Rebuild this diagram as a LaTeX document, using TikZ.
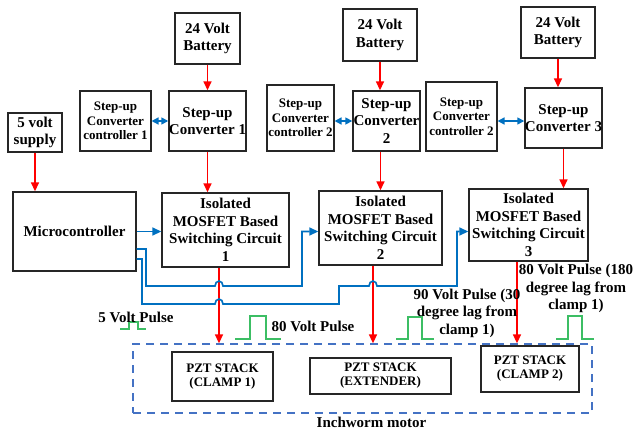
\documentclass[tikz,border=0pt]{standalone}
\usepackage{fontspec}
\setmainfont{Liberation Serif}
\usetikzlibrary{arrows.meta,positioning}

\definecolor{pwrred}{RGB}{255,0,0}
\definecolor{sigblue}{RGB}{0,112,192}
\definecolor{boxblue}{RGB}{68,114,196}
\definecolor{pulsegreen}{RGB}{60,190,100}

\begin{document}
\begin{tikzpicture}[x=1pt,y=-1pt]
\tikzstyle{every node}=[font=\bfseries\fontsize{15}{17.5}\selectfont]
\tikzstyle{blk}=[draw=black!85,line width=1.4pt,align=center,inner sep=0pt]
\tikzstyle{ctrl}=[blk,line width=1.1pt,font=\bfseries\fontsize{13}{14.5}\selectfont]
\tikzstyle{pzt}=[blk,font=\bfseries\fontsize{13}{14}\selectfont]
\tikzstyle{power}=[draw=pwrred,line width=1.5pt,-{Triangle[length=9pt,width=8pt]}]
\tikzstyle{signal}=[draw=sigblue,line width=1.6pt]
\tikzstyle{link}=[signal,{Triangle[length=7pt,width=7pt]}-{Triangle[length=7pt,width=7pt]}]
\tikzstyle{pulse}=[draw=pulsegreen,line width=1.5pt]

\useasboundingbox (0,0) rectangle (635,429);

%% Batteries
\node[blk,minimum width=65,minimum height=51] (bat1) at (207.5,38.5) {24 Volt\\Battery};
\node[blk,minimum width=74,minimum height=52] (bat2) at (380,35) {24 Volt\\Battery};
\node[blk,minimum width=74,minimum height=51] (bat3) at (558,32.5) {24 Volt\\Battery};

%% Converters and their controllers
\node[blk,minimum width=54,minimum height=39] (supply) at (35,132.5) {5 volt\\supply};
\node[ctrl,minimum width=71,minimum height=60] (ctrl1) at (115.5,121) {Step-up\\Converter\\controller 1};
\node[blk,minimum width=77,minimum height=60] (conv1) at (207.5,121) {Step-up\\Converter 1};
\node[ctrl,minimum width=67,minimum height=66] (ctrl2) at (300.5,118) {Step-up\\Converter\\controller 2};
\node[blk,minimum width=67,minimum height=60] (conv2) at (386.5,121) {Step-up\\Converter\\2};
\node[ctrl,minimum width=71,minimum height=69] (ctrl3) at (461.5,116.5) {Step-up\\Converter\\controller 2};
\node[blk,minimum width=77,minimum height=60] (conv3) at (563.5,118) {Step-up\\Converter 3};

%% Switching stage
\node[blk,minimum width=123,minimum height=79] (micro) at (74.5,231.5) {Microcontroller};
\node[blk,minimum width=127,minimum height=74] (iso1) at (225.5,230) {Isolated\\MOSFET Based\\Switching Circuit\\1};
\node[blk,minimum width=123,minimum height=74] (iso2) at (380.5,228) {Isolated\\MOSFET Based\\Switching Circuit\\2};
\node[blk,minimum width=119,minimum height=72] (iso3) at (528.5,225) {Isolated\\MOSFET Based\\Switching Circuit\\3};

%% Inchworm motor
\node[draw=boxblue,line width=1.3pt,dash pattern=on 8pt off 6pt,minimum width=459,minimum height=69] (motor) at (362.5,378.5) {};
\node (motorlbl) at (371.5,422) {Inchworm motor};
\node[pzt,minimum width=101,minimum height=49] (pzt1) at (222.5,376.5) {PZT STACK\\(CLAMP 1)};
\node[pzt,minimum width=141,minimum height=36] (pzt2) at (380.5,376) {PZT STACK\\(EXTENDER)};
\node[pzt,minimum width=98,minimum height=46] (pzt3) at (530,369) {PZT STACK\\(CLAMP 2)};

%% Power path
\draw[power] (supply.south) -- (supply.south |- micro.north);
\draw[power] (bat1.south) -- (bat1.south |- conv1.north);
\draw[power] (bat2.south) -- (bat2.south |- conv2.north);
\draw[power] (bat3.south) -- (bat3.south |- conv3.north);
\draw[power] (conv1.south) -- (conv1.south |- iso1.north);
\draw[power] (iso2.north |- conv2.south) -- (iso2.north);
\draw[power] (conv3.south) -- (conv3.south |- iso3.north);
\draw[power] ([xshift=-6.5]iso1.south) -- ([xshift=-6.5]iso1.south |- motor.north);
\draw[power] ([xshift=-7.5]iso2.south) -- ([xshift=-7.5]iso2.south |- motor.north);
\draw[power] ([xshift=-11.5]iso3.south) -- ([xshift=-11.5]iso3.south |- motor.north);

%% Controller links
\draw[link] (ctrl1.east) -- (conv1.west);
\draw[link] (ctrl2.east |- conv2.west) -- (conv2.west);
\draw[link] (ctrl3.east |- conv2.west) -- (conv3.west |- conv2.west);

%% Gate signals
\draw[signal,-{Triangle[length=9pt,width=8pt]}] (micro.east) -- (iso1.west |- micro.east);
\draw[signal,-{Triangle[length=9pt,width=8pt]}] ([yshift=-17.5]micro.east) -| (146,286)
    -- (215,286) arc[start angle=180,end angle=360,x radius=4,y radius=5] -- (302,286)
    |- (iso2.west |- micro.east);
\draw[signal,-{Triangle[length=9pt,width=8pt]}] ([yshift=-27.5]micro.east) -| (142,304)
    -- (215,304) arc[start angle=180,end angle=360,x radius=4,y radius=5] -- (339,304)
    -- (339,286) -- (369,286) arc[start angle=180,end angle=360,x radius=4,y radius=5]
    -- (457,286) |- (iso3.west |- micro.east);

%% Pulses
\draw[pulse] (120,329) -- (129,329) -- (129,322) -- (138,322) -- (138,329) -- (146,329);
\draw[pulse] (235,339) -- (250,339) -- (250,316) -- (266,316) -- (266,339) -- (281,339);
\draw[pulse] (396,339) -- (408,339) -- (408,317) -- (422,317) -- (422,339) -- (434,339);
\draw[pulse] (556,339) -- (568,339) -- (568,316) -- (582,316) -- (582,339) -- (594,339);
\node (lbl5) at (136,317) {5 Volt Pulse};
\node (lbl80) at (313,326) {80 Volt Pulse};
\node[align=center] (lbl90) at (467,313) {90 Volt Pulse (30\\degree lag from\\clamp 1)};
\node[align=center] (lbl180) at (576,288.5) {80 Volt Pulse (180\\degree lag from\\clamp 1)};

\end{tikzpicture}
\end{document}
